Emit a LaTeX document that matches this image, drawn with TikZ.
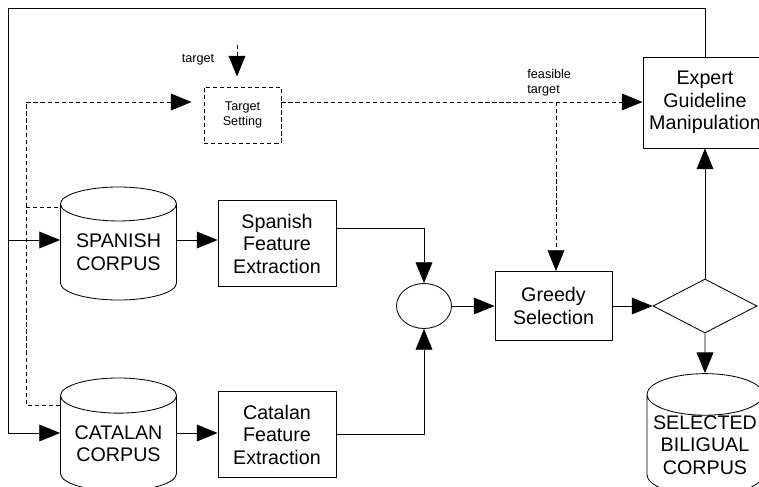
\documentclass[tikz,border=0pt]{standalone}
\usepackage{fontspec}
\setmainfont{Liberation Sans}
\usetikzlibrary{shapes.geometric}
\usetikzlibrary{calc}
\usetikzlibrary{arrows.meta}
\newcommand{\bigfont}{\fontsize{14}{16}\selectfont}
\newcommand{\smallfont}{\fontsize{9}{10.7}\selectfont}
\newcommand{\colleft}{8}
\newcommand{\coldash}{26}
\newcommand{\colcorp}{118.5}
\newcommand{\colfeat}{277}
\newcommand{\colmerge}{424}
\newcommand{\colgreedy}{553.5}
\newcommand{\colout}{705}
\newcommand{\rowtop}{8}
\newcommand{\rowdash}{102}
\newcommand{\rowsetting}{115}
\newcommand{\rowes}{243.5}
\newcommand{\rowesin}{240}
\newcommand{\rowmid}{306}
\newcommand{\rowca}{434.5}
\newcommand{\rowcain}{433}

\begin{document}
\begin{tikzpicture}[x=0.025cm,y=-0.025cm,line width=0.6pt,
  font=\bigfont,align=center,
  arr/.style={-{Triangle[length=0.52cm,width=0.42cm]}},
  dashline/.style={dash pattern=on 3pt off 2pt},
  dasharr/.style={arr,dashline},
  box/.style={draw,inner sep=0pt,minimum width=2.95cm,minimum height=2.15cm},
  corpus/.style={draw,cylinder,shape border rotate=90,aspect=0.4,
    anchor=shape center,inner sep=0pt,minimum width=2.9cm,
    minimum height=2.825cm}]
    \useasboundingbox (0,0) rectangle (759,487);

    \node[corpus] (spcorpus) at (\colcorp,\rowes) {SPANISH\\CORPUS};
    \node[corpus] (catcorpus) at (\colcorp,\rowca) {CATALAN\\CORPUS};
    \node[box] (spfeat) at (\colfeat,\rowes) {Spanish\\Feature\\Extraction};
    \node[box] (catfeat) at (\colfeat,\rowca) {Catalan\\Feature\\Extraction};
    \node[draw,ellipse,inner sep=0pt,minimum width=1.375cm,
      minimum height=1.125cm] (merge) at (\colmerge,\rowmid) {};
    \node[box,minimum width=2.925cm,minimum height=1.725cm] (greedy)
      at (\colgreedy,\rowmid) {Greedy\\Selection};
    \node[draw,diamond,inner sep=0pt,aspect=1.93,minimum width=2.6cm,
      minimum height=1.35cm] (check) at (\colout,\rowmid) {};
    \node[corpus] (selected) at (\colout,\rowca) {SELECTED\\BILIGUAL\\CORPUS};
    \node[box,minimum width=3.1cm,minimum height=2.275cm] (expert)
      at (\colout,102.5) {Expert\\Guideline\\Manipulation};
    \node[box,dashline,font=\smallfont,minimum width=1.925cm,
      minimum height=1.4cm] (tset) at (242.5,\rowsetting) {Target\\Setting};
    \node[font=\smallfont] (tgtlabel) at (198,60) {target};
    \node[font=\smallfont,anchor=south west,inner sep=0pt,align=left]
      (feaslabel) at (527,97) {feasible\\target};

    \coordinate (loopcorner) at (\colleft,\rowtop);
    \coordinate (spanin) at (\colleft,\rowesin);
    \coordinate (catin) at (\colleft,\rowcain);
    \coordinate (dashcorner) at (\coldash,\rowdash);
    \coordinate (spdash) at (\coldash,207);
    \coordinate (catdash) at (\coldash,405);
    \coordinate (tgtin) at (237,45);
    \coordinate (fbranch) at (556,\rowdash);

    \draw[arr] (expert.north) |- (loopcorner) |- (catin -| catcorpus.west);
    \draw[arr] (spanin) -- (spanin -| spcorpus.west);
    \draw[arr] (spanin -| spcorpus.east) -- (spanin -| spfeat.west);
    \draw[arr] (catin -| catcorpus.east) -- (catin -| catfeat.west);
    \draw[arr] ($(spfeat.east)+(0,-15)$) -| (merge);
    \draw[arr] (catfeat) -| (merge);
    \draw[arr] (merge) -- (greedy);
    \draw[arr] (greedy) -- (check);
    \draw[arr] (check) -- (expert);
    \draw[arr] (check) -- (selected.north);

    \draw[dashline] (spdash) -- (spdash -| spcorpus.west);
    \draw[dasharr,shorten >=0.3cm] (catdash -| catcorpus.west) -- (catdash)
      -- (dashcorner) -- (tset.west |- dashcorner);
    \draw[dasharr] (tset.east |- fbranch) -- (expert.west |- fbranch);
    \draw[dasharr] (fbranch) -- (fbranch |- greedy.north);
    \draw[dasharr,shorten >=0.25cm] (tgtin) -- (tgtin |- tset.north);
  \end{tikzpicture}
\end{document}
